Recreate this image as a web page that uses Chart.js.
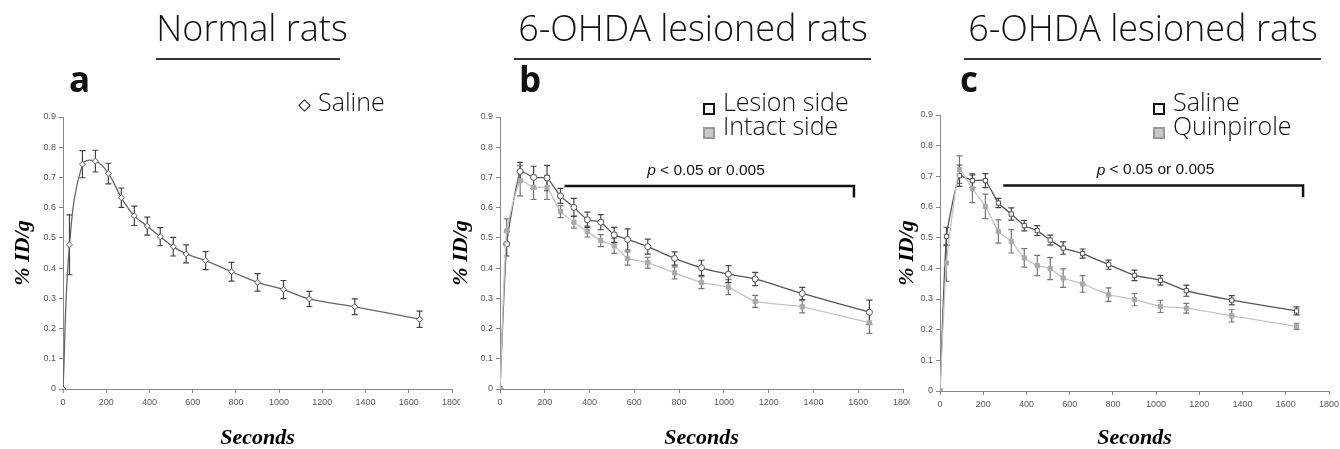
<!DOCTYPE html>
<html>
<head>
<meta charset="utf-8">
<script src="https://cdn.jsdelivr.net/npm/chart.js@4.4.0/dist/chart.umd.min.js"></script>
<style>
  body { margin: 0; background: #fff; }
  #wrap { position: relative; width: 1340px; height: 449px; overflow: hidden; font-family: "Open Sans", sans-serif; color: #111; }
  canvas { position: absolute; top: 0; }
  .title { position: absolute; top: 10px; font-size: 36px; line-height: 36px; font-weight: 300; white-space: nowrap; transform: translateX(-50%); }
  .rule { position: absolute; top: 58px; height: 2px; background: #333; }
  .letter { position: absolute; top: 61px; font-size: 35px; line-height: 35px; font-weight: 700; }
  .leg { position: absolute; font-size: 25px; line-height: 25px; font-weight: 300; white-space: nowrap; }
  .sq { position: absolute; width: 8px; height: 8px; border: 2px solid #111; }
</style>
</head>
<body>
<div id="wrap">
  <canvas id="chartA" width="460" height="449" style="left:0"></canvas>
  <canvas id="chartB" width="470" height="449" style="left:440px"></canvas>
  <canvas id="chartC" width="460" height="449" style="left:880px"></canvas>

  <div class="title" style="left:252px">Normal rats</div>
  <div class="rule" style="left:156px;width:184px"></div>
  <div class="letter" style="left:69px">a</div>
  <div class="sq" style="left:300px;top:101px;width:7px;height:7px;transform:rotate(45deg);border-width:1.5px"></div>
  <div class="leg" style="left:318px;top:89px">Saline</div>

  <div class="title" style="left:693px">6-OHDA lesioned rats</div>
  <div class="rule" style="left:514px;width:357px"></div>
  <div class="letter" style="left:519px">b</div>
  <div class="sq" style="left:703px;top:103px"></div>
  <div class="leg" style="left:723px;top:89px">Lesion side</div>
  <div class="sq" style="left:703px;top:127px;background:#c8c8c8;border-color:#999"></div>
  <div class="leg" style="left:723px;top:113px">Intact side</div>

  <div class="title" style="left:1143px">6-OHDA lesioned rats</div>
  <div class="rule" style="left:964px;width:357px"></div>
  <div class="letter" style="left:960px">c</div>
  <div class="sq" style="left:1153px;top:103px"></div>
  <div class="leg" style="left:1173px;top:89px">Saline</div>
  <div class="sq" style="left:1153px;top:127px;background:#c8c8c8;border-color:#999"></div>
  <div class="leg" style="left:1173px;top:113px">Quinpirole</div>
</div>

<script>
// sampling times (s)
const seconds = [0, 30, 90, 150, 210, 270, 330, 390, 450, 510, 570, 660, 780, 900, 1020, 1140, 1350, 1650];

// a: normal rats
const salineA    = [0, 0.477, 0.744, 0.754, 0.713, 0.633, 0.573, 0.539, 0.504, 0.471, 0.447, 0.425, 0.388, 0.353, 0.329, 0.298, 0.272, 0.231];
const salineAErr = [0, 0.099, 0.045, 0.036, 0.034, 0.032, 0.032, 0.030, 0.030, 0.031, 0.030, 0.030, 0.031, 0.029, 0.030, 0.025, 0.026, 0.027];

// b: lesioned rats, lesion vs intact side
const lesionB    = [0, 0.480, 0.720, 0.700, 0.698, 0.639, 0.601, 0.560, 0.552, 0.510, 0.495, 0.471, 0.432, 0.401, 0.380, 0.364, 0.316, 0.254];
const lesionBErr = [0, 0.040, 0.030, 0.037, 0.042, 0.025, 0.030, 0.025, 0.025, 0.025, 0.035, 0.025, 0.022, 0.025, 0.028, 0.022, 0.020, 0.040];
const intactB    = [0, 0.523, 0.689, 0.667, 0.667, 0.587, 0.552, 0.521, 0.491, 0.474, 0.432, 0.418, 0.384, 0.352, 0.337, 0.290, 0.272, 0.219];
const intactBErr = [0, 0.040, 0.050, 0.040, 0.040, 0.020, 0.020, 0.018, 0.020, 0.025, 0.022, 0.018, 0.020, 0.020, 0.025, 0.020, 0.020, 0.035];

// c: lesioned rats, saline vs quinpirole
const salineC    = [0, 0.504, 0.702, 0.686, 0.686, 0.613, 0.577, 0.539, 0.523, 0.492, 0.466, 0.448, 0.412, 0.377, 0.361, 0.327, 0.296, 0.261];
const salineCErr = [0, 0.030, 0.035, 0.022, 0.023, 0.015, 0.020, 0.017, 0.016, 0.016, 0.020, 0.015, 0.015, 0.017, 0.016, 0.018, 0.015, 0.013];
const quinC      = [0, 0.417, 0.722, 0.659, 0.602, 0.520, 0.488, 0.434, 0.409, 0.399, 0.368, 0.349, 0.314, 0.298, 0.276, 0.270, 0.245, 0.211];
const quinCErr   = [0, 0.060, 0.045, 0.045, 0.040, 0.038, 0.038, 0.030, 0.033, 0.036, 0.030, 0.027, 0.022, 0.020, 0.020, 0.016, 0.020, 0.010];

const yTickLabels = ['0', '0.1', '0.2', '0.3', '0.4', '0.5', '0.6', '0.7', '0.8', '0.9'];
const xTickLabels = ['0', '200', '400', '600', '800', '1000', '1200', '1400', '1600', '1800'];

function pts(vals) {
  return seconds.map((s, i) => ({ x: s, y: vals[i] }));
}

// vertical error bars, drawn under the lines
const errorBars = {
  id: 'errorBars',
  beforeDatasetsDraw(chart) {
    const ctx = chart.ctx, xs = chart.scales.x, ys = chart.scales.y;
    chart.data.datasets.forEach(ds => {
      if (!ds.errors) return;
      ctx.save();
      ctx.strokeStyle = ds.errorColor;
      ctx.lineWidth = 1.2;
      ds.data.forEach((p, i) => {
        const e = ds.errors[i];
        if (!e) return;
        const x = xs.getPixelForValue(p.x);
        const y1 = ys.getPixelForValue(p.y + e);
        const y2 = ys.getPixelForValue(p.y - e);
        ctx.beginPath();
        ctx.moveTo(x, y1); ctx.lineTo(x, y2);
        ctx.moveTo(x - 3, y1); ctx.lineTo(x + 3, y1);
        ctx.moveTo(x - 3, y2); ctx.lineTo(x + 3, y2);
        ctx.stroke();
      });
      ctx.restore();
    });
  }
};

// significance bracket with p label
const bracket = {
  id: 'bracket',
  afterDatasetsDraw(chart, args, opts) {
    if (opts.from === undefined) return;
    const ctx = chart.ctx, xs = chart.scales.x, ys = chart.scales.y;
    const x1 = xs.getPixelForValue(opts.from), x2 = xs.getPixelForValue(opts.to);
    const y = ys.getPixelForValue(opts.level), yd = ys.getPixelForValue(opts.drop);
    ctx.save();
    ctx.strokeStyle = '#111';
    ctx.lineWidth = 2.5;
    ctx.beginPath();
    ctx.moveTo(x1, y); ctx.lineTo(x2, y); ctx.lineTo(x2, yd);
    ctx.stroke();
    ctx.fillStyle = '#111';
    ctx.textBaseline = 'middle';
    const rest = ' < 0.05 or 0.005';
    const italic = 'italic 15.5px "Liberation Sans", Arial';
    const plain = '15.5px "Liberation Sans", Arial';
    ctx.font = italic;
    const wp = ctx.measureText('p').width;
    ctx.font = plain;
    const wr = ctx.measureText(rest).width;
    const cx = xs.getPixelForValue(opts.labelAt), ty = ys.getPixelForValue(opts.labelY);
    const start = cx - (wp + wr) / 2;
    ctx.textAlign = 'left';
    ctx.font = italic;
    ctx.fillText('p', start, ty);
    ctx.font = plain;
    ctx.fillText(rest, start + wp, ty);
    ctx.restore();
  }
};

function makeChart(id, datasets, geom, bracketOpts) {
  const axisTitleFont = { family: '"Liberation Serif", "Times New Roman", serif', size: 22, weight: 'bold', style: 'italic', lineHeight: 1 };
  const tickFont = { family: '"Liberation Sans", Arial, sans-serif', size: 9 };
  return new Chart(document.getElementById(id), {
    type: 'line',
    data: { datasets: datasets },
    plugins: bracketOpts ? [errorBars, bracket] : [errorBars],
    options: {
      responsive: false,
      animation: false,
      layout: { padding: { left: 0, top: geom.top, right: geom.right, bottom: 0 } },
      plugins: {
        legend: { display: false },
        tooltip: { enabled: false },
        bracket: bracketOpts || {}
      },
      scales: {
        x: {
          type: 'linear',
          min: 0, max: 1800,
          grid: { drawOnChartArea: false, drawTicks: true, tickLength: 4, color: '#888' },
          border: { color: '#888', width: 1 },
          ticks: {
            stepSize: 200, padding: 4, color: '#555', font: tickFont, maxRotation: 0,
            callback: (v, i) => xTickLabels[i]
          },
          title: { display: true, text: 'Seconds', color: '#000', font: axisTitleFont, padding: 0 },
          afterFit: s => { s.height = geom.xh; s.paddingLeft = 0; s.paddingRight = 0; }
        },
        y: {
          min: 0, max: 0.9,
          grid: { drawOnChartArea: false, drawTicks: true, tickLength: 4, color: '#888' },
          border: { color: '#888', width: 1 },
          ticks: {
            stepSize: 0.1, padding: 3, color: '#555', font: tickFont,
            callback: (v, i) => yTickLabels[i]
          },
          title: { display: true, text: '% ID/g', color: '#000', font: axisTitleFont, padding: { top: geom.ytp, bottom: 0 } },
          afterFit: s => { s.width = geom.yw; s.paddingTop = 0; s.paddingBottom = 0; }
        }
      }
    }
  });
}

function series(vals, errs, line, errColor, style, fill, border, tension) {
  return {
    data: pts(vals),
    errors: errs,
    errorColor: errColor,
    borderColor: line,
    borderWidth: 1.3,
    tension: tension,
    pointStyle: style,
    pointRadius: 3,
    pointBackgroundColor: fill,
    pointBorderColor: border,
    pointBorderWidth: 1
  };
}

makeChart('chartA', [
  series(salineA, salineAErr, '#666', '#444', 'rectRot', '#fff', '#555', 0.4)
], { top: 117, right: 8, xh: 60, yw: 63, ytp: 12 });

makeChart('chartB', [
  series(intactB, intactBErr, '#c4c4c4', '#777', 'rect', '#aaa', '#aaa', 0.15),
  series(lesionB, lesionBErr, '#555', '#444', 'circle', '#fff', '#555', 0.15)
], { top: 117, right: 7, xh: 60, yw: 60, ytp: 10 },
{ from: 288, to: 1581, level: 0.672, drop: 0.634, labelAt: 920, labelY: 0.723 });

makeChart('chartC', [
  series(quinC, quinCErr, '#c4c4c4', '#777', 'rect', '#aaa', '#aaa', 0.15),
  series(salineC, salineCErr, '#555', '#444', 'rect', '#fff', '#555', 0.15)
], { top: 115, right: 11, xh: 58, yw: 60, ytp: 16 },
{ from: 293, to: 1680, level: 0.670, drop: 0.632, labelAt: 997, labelY: 0.720 });
</script>
</body>
</html>
